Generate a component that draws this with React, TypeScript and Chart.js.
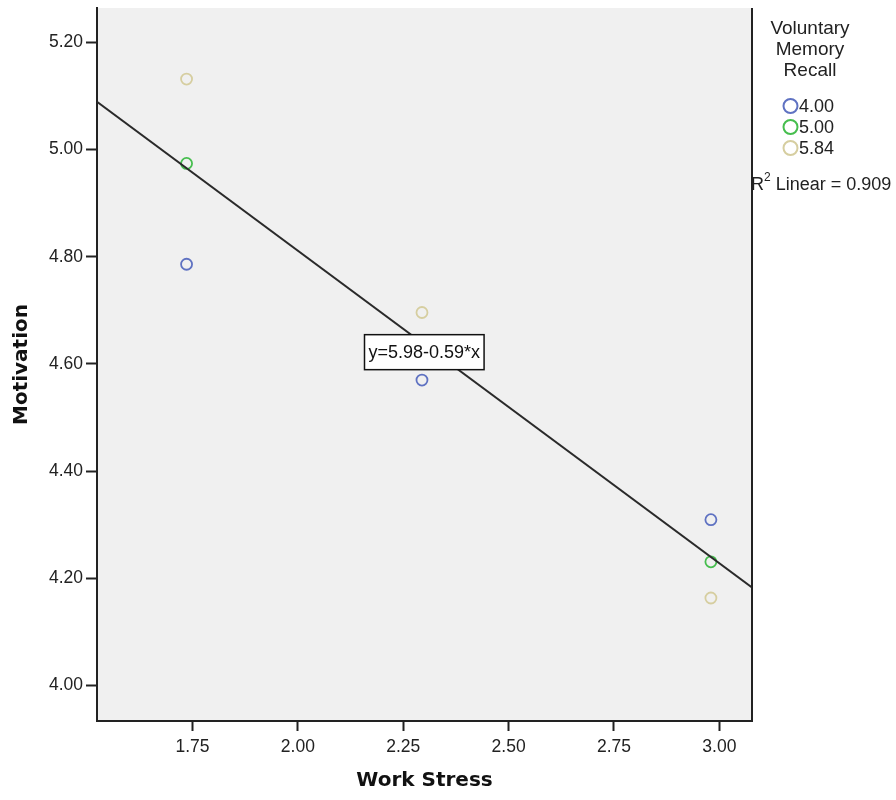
import React, { useEffect, useRef } from "react";
import { Chart, registerables } from "chart.js";

Chart.register(...registerables);

// ---- data ----
const groupLabels = ["4.00", "5.00", "5.84"];
const groupColors = ["#5f72c2", "#46be4e", "#d6cea0"];
const workStress4 = [1.736, 2.2945, 2.98];
const motivation4 = [4.786, 4.57, 4.3095];
const workStress5 = [1.736, 2.98];
const motivation5 = [4.974, 4.231];
const workStress584 = [1.736, 2.2945, 2.98];
const motivation584 = [5.1315, 4.696, 4.1634];
const fitLineX = [1.5235, 3.0775];
const fitLineY = [5.089, 4.183];
const xTicks = [1.75, 2.0, 2.25, 2.5, 2.75, 3.0];
const yTicks = [4.0, 4.2, 4.4, 4.6, 4.8, 5.0, 5.2];
const xRange = [1.5235, 3.0775];
const yRange = [3.934, 5.264];
const equationText = "y=5.98-0.59*x";
const equationAt = [2.3, 4.622];
const legendTitle = ["Voluntary", "Memory", "Recall"];
const r2Text = " Linear = 0.909";

const TICK_FONT = { family: "'Liberation Sans', Arial, sans-serif", size: 17.5 };

const pts = (xs: number[], ys: number[]) => xs.map((x, i) => ({ x, y: ys[i] }));

export default function App() {
  const ref = useRef<HTMLCanvasElement | null>(null);
  useEffect(() => {
    if (!ref.current) return;
    const decor = {
      id: "decor",
      beforeDraw(chart: any) {
        const { ctx, chartArea: a } = chart;
        ctx.save();
        ctx.fillStyle = "#ffffff";
        ctx.fillRect(0, 0, chart.width, chart.height);
        ctx.fillStyle = "#f0f0f0";
        ctx.fillRect(a.left, a.top, a.right - a.left, a.bottom - a.top);
        ctx.restore();
      },
      afterDraw(chart: any) {
        const { ctx, chartArea: a, scales } = chart;
        ctx.save();
        // right border
        ctx.strokeStyle = "#222";
        ctx.lineWidth = 2;
        ctx.beginPath();
        ctx.moveTo(a.right, a.top);
        ctx.lineTo(a.right, a.bottom + 1);
        ctx.stroke();
        // equation box
        ctx.font = "18px 'Liberation Sans', Arial, sans-serif";
        const cx = scales.x.getPixelForValue(equationAt[0]);
        const cy = scales.y.getPixelForValue(equationAt[1]);
        const tw = ctx.measureText(equationText).width;
        const bw = tw + 8, bh = 35;
        ctx.fillStyle = "#fff";
        ctx.fillRect(cx - bw / 2, cy - bh / 2, bw, bh);
        ctx.lineWidth = 1.5;
        ctx.strokeStyle = "#111";
        ctx.strokeRect(cx - bw / 2, cy - bh / 2, bw, bh);
        ctx.fillStyle = "#111";
        ctx.textAlign = "center";
        ctx.textBaseline = "middle";
        ctx.fillText(equationText, cx, cy + 1);
        // legend
        ctx.font = "19px 'Liberation Sans', Arial, sans-serif";
        ctx.fillStyle = "#222";
        legendTitle.forEach((t, i) => ctx.fillText(t, 810, 29 + i * 21));
        ctx.font = "18px 'Liberation Sans', Arial, sans-serif";
        ctx.textAlign = "left";
        groupLabels.forEach((t, i) => {
          const y = 106 + i * 21;
          ctx.beginPath();
          ctx.arc(790.5, y, 7, 0, Math.PI * 2);
          ctx.strokeStyle = groupColors[i];
          ctx.lineWidth = 2;
          ctx.stroke();
          ctx.fillStyle = "#222";
          ctx.fillText(t, 799, y + 1);
        });
        // R2
        ctx.fillStyle = "#222";
        ctx.font = "18px 'Liberation Sans', Arial, sans-serif";
        ctx.fillText("R", 751, 185);
        const rw = ctx.measureText("R").width;
        ctx.font = "12px 'Liberation Sans', Arial, sans-serif";
        ctx.fillText("2", 751 + rw, 178);
        const sw = ctx.measureText("2").width;
        ctx.font = "18px 'Liberation Sans', Arial, sans-serif";
        ctx.fillText(r2Text, 751 + rw + sw, 185);
        ctx.restore();
      },
    };
    const scatterDs = (label: string, data: any[], color: string) => ({
      type: "scatter" as const,
      label,
      data,
      borderColor: color,
      backgroundColor: "rgba(0,0,0,0)",
      pointRadius: 5.5,
      pointBorderWidth: 1.8,
      pointStyle: "circle",
    });
    const chart = new Chart(ref.current, {
      type: "scatter",
      data: {
        datasets: [
          {
            type: "line",
            label: "fit",
            data: pts(fitLineX, fitLineY),
            borderColor: "#2a2a2a",
            borderWidth: 2,
            pointRadius: 0,
            fill: false,
          } as any,
          scatterDs(groupLabels[0], pts(workStress4, motivation4), groupColors[0]),
          scatterDs(groupLabels[1], pts(workStress5, motivation5), groupColors[1]),
          scatterDs(groupLabels[2], pts(workStress584, motivation584), groupColors[2]),
        ],
      },
      options: {
        responsive: false,
        animation: false,
        layout: { padding: { top: 8, right: 144, left: 0, bottom: 0 } },
        plugins: { legend: { display: false }, tooltip: { enabled: false } },
        scales: {
          x: {
            type: "linear",
            min: xRange[0],
            max: xRange[1],
            afterBuildTicks: (s: any) => {
              s.ticks = xTicks.map((v) => ({ value: v }));
            },
            afterFit: (s: any) => {
              s.height = 79;
              s.paddingLeft = 0;
              s.paddingRight = 0;
            },
            ticks: {
              font: TICK_FONT,
              color: "#222",
              padding: 6,
              maxRotation: 0,
              callback: (v: any) => Number(v).toFixed(2),
            },
            grid: { drawOnChartArea: false, tickLength: 10, tickWidth: 2, tickColor: "#222" },
            border: { display: true, color: "#222", width: 2 },
            title: {
              display: true,
              text: "Work Stress",
              color: "#111",
              font: { family: "'DejaVu Sans', sans-serif", size: 20, weight: "bold" },
              padding: { top: 0, bottom: 7 },
            },
          },
          y: {
            type: "linear",
            min: yRange[0],
            max: yRange[1],
            afterBuildTicks: (s: any) => {
              s.ticks = yTicks.map((v) => ({ value: v }));
            },
            afterFit: (s: any) => {
              s.width = 97;
              s.paddingTop = 0;
              s.paddingBottom = 0;
            },
            ticks: {
              font: TICK_FONT,
              color: "#222",
              padding: 3,
              callback: (v: any) => Number(v).toFixed(2),
            },
            grid: { drawOnChartArea: false, tickLength: 11, tickWidth: 2, tickColor: "#222" },
            border: { display: true, color: "#222", width: 2 },
            title: {
              display: true,
              text: "Motivation",
              color: "#111",
              font: { family: "'DejaVu Sans', sans-serif", size: 20, weight: "bold" },
              padding: { top: 10, bottom: 0 },
            },
          },
        },
      },
      plugins: [decor],
    } as any);
    return () => chart.destroy();
  }, []);
  return (
    <div style={{ position: "absolute", left: 0, top: 0, width: 896, height: 800 }}>
      <canvas ref={ref} width={896} height={800} />
    </div>
  );
}
